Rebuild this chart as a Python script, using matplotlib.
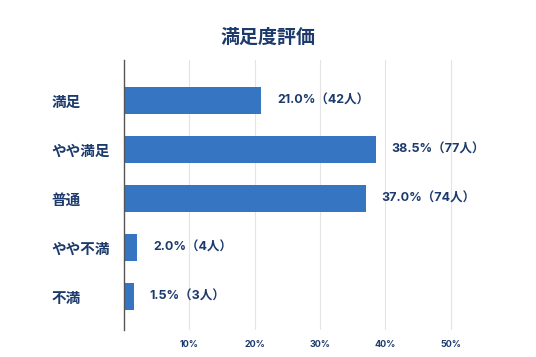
import matplotlib
matplotlib.use("Agg")
import matplotlib.pyplot as plt

plt.rcParams['font.family'] = ['Noto Sans CJK JP', 'DejaVu Sans']

categories = ["満足", "やや満足", "普通", "やや不満", "不満"]
percents = [21.0, 38.5, 37.0, 2.0, 1.5]
counts = [42, 77, 74, 4, 3]
xticks = [10, 20, 30, 40, 50]
xticklabels = ["10%", "20%", "30%", "40%", "50%"]
title = "満足度評価"

navy = "#1c3a6b"
bar_color = "#3575c1"
num_font = ['Inter', 'Noto Sans CJK JP']

fig = plt.figure(figsize=(5.36, 3.57), dpi=100)
ax = fig.add_axes([124/536, 1-330/357, (516-124)/536, 270/357])

y = list(range(len(categories)))
ax.barh(y, percents, height=0.55, color=bar_color, zorder=3)
ax.set_ylim(4.68, -0.82)
ax.set_xlim(0, 60)

for yi, p, c in zip(y, percents, counts):
    ax.annotate(f"{p:.1f}%（{c}人）", xy=(p, yi), xytext=(16, 0), textcoords="offset pixels",
                va="center", ha="left", fontsize=9, fontweight="bold", color=navy,
                family=num_font)

ax.set_xticks(xticks)
ax.set_xticklabels(xticklabels, fontsize=6.5, fontweight="bold", color=navy, family=num_font)
ax.set_yticks(y)
ax.set_yticklabels(categories, fontsize=10.5, fontweight="bold", color=navy, ha="left")
ax.tick_params(axis="y", length=0, pad=52)
ax.tick_params(axis="x", length=0, pad=7)
ax.grid(axis="x", color="#e4e4e4", linewidth=0.8, zorder=0)
for s in ["top", "right", "bottom"]:
    ax.spines[s].set_visible(False)
ax.spines["left"].set_color("#555555")
ax.spines["left"].set_linewidth(1.0)
ax.spines["left"].set_zorder(4)

fig.text(0.5, 1-37/357, title, ha="center", va="center", fontsize=13.7, fontweight="bold", color=navy)

fig.savefig("out.png", dpi=100)
